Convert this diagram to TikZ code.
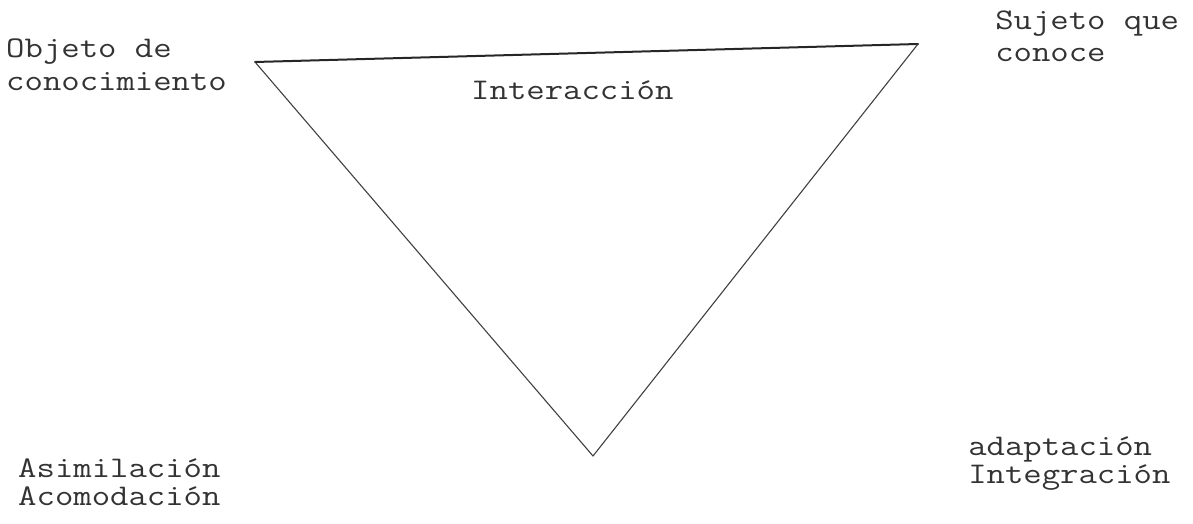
\documentclass[tikz,border=0pt]{standalone}
\begin{document}
\begin{tikzpicture}[x=1pt,y=-1pt,
  lbl/.style={anchor=base west,inner sep=0pt,xscale=1.19,font=\ttfamily\fontsize{30}{34}\selectfont,text=black!80},
  side/.style={draw=black!75,line width=1.1pt,line cap=round},
  topside/.style={draw=black!85,line width=2pt,line cap=round}]
\useasboundingbox (0,0) rectangle (1193,524);
\coordinate (tl) at (255,62);
\coordinate (tr) at (918,44);
\coordinate (bt) at (593,456);
\draw[topside] (tl) -- (tr);
\draw[side] (tl) -- (bt);
\draw[side] (bt) -- (tr);
\node[lbl] (o1) at (6,58) {Objeto de};
\node[lbl] (o2) at (6,91) {conocimiento};
\node[lbl] (s1) at (995,30) {Sujeto que};
\node[lbl] (s2) at (995,62) {conoce};
\node[lbl] (in) at (471,100) {Interacción};
\node[lbl] (a1) at (18,477) {Asimilación};
\node[lbl] (a2) at (18,505) {Acomodación};
\node[lbl] (d1) at (968,455) {adaptación};
\node[lbl] (d2) at (968,483) {Integración};
\end{tikzpicture}
\end{document}
